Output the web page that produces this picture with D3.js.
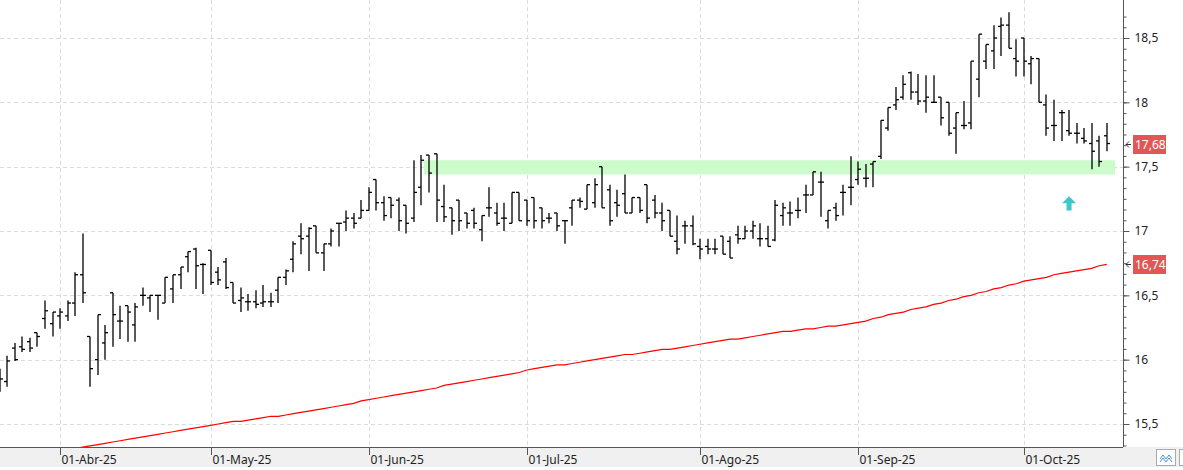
<!DOCTYPE html>
<html>
<head>
<meta charset="utf-8">
<script src="https://cdn.jsdelivr.net/npm/d3@7/dist/d3.min.js"></script>
<style>
  body { margin: 0; background: #fff; }
  svg { display: block; font-family: "Segoe UI", "Noto Sans", "Open Sans", sans-serif; }
</style>
</head>
<body>
<div id="chart"></div>
<script>
// trading calendar (Madrid exchange holidays in the window)
var startDate = '2025-03-20';
var holidays = ['2025-04-18', '2025-04-21', '2025-05-01'];
var monthNames = ['Ene', 'Feb', 'Mar', 'Abr', 'May', 'Jun', 'Jul', 'Ago', 'Sep', 'Oct', 'Nov', 'Dic'];

// daily OHLC, 20-Mar-25 .. 16-Oct-25
var opens = [
    15.80, 15.83, 16.09, 16.10, 16.14, 16.21, 16.32, 16.28, 16.34, 16.34, 16.44, 16.66, 16.18, 16.00, 16.13, 16.52,
    16.30, 16.42, 16.27, 16.50, 16.48, 16.50, 16.44, 16.55, 16.66, 16.80, 16.86, 16.74, 16.85, 16.68, 16.76, 16.60,
    16.46, 16.45, 16.45, 16.44, 16.45, 16.54, 16.64, 16.78, 16.96, 16.96, 17.04, 16.83, 16.90, 17.06, 17.07, 17.10,
    17.10, 17.16, 17.40, 17.22, 17.26, 17.24, 17.20, 17.10, 17.34, 17.59, 17.60, 17.19, 17.18, 17.24, 17.14, 17.16,
    17.01, 17.18, 17.14, 17.10, 17.06, 17.30, 17.24, 17.26, 17.18, 17.10, 17.14, 17.08, 17.18, 17.24, 17.17, 17.22,
    17.50, 17.32, 17.22, 17.29, 17.14, 17.26, 17.36, 17.24, 17.14, 17.16, 16.92, 17.04, 17.04, 16.88, 16.88, 16.86,
    16.96, 16.92, 16.97, 16.94, 17.00, 16.94, 16.94, 16.93, 17.12, 17.14, 17.16, 17.28, 17.28, 17.38, 17.08, 17.18,
    17.30, 17.34, 17.40, 17.41, 17.52, 17.58, 17.80, 17.98, 18.04, 18.23, 18.08, 18.01, 18.00, 18.04, 18.00, 17.80,
    17.82, 17.84, 18.18, 18.32, 18.40, 18.59, 18.60, 18.34, 18.50, 18.30, 18.34, 17.98, 17.82, 17.92, 17.78, 17.76,
    17.72, 17.68, 17.70, 17.74
];
var highs = [
    15.93, 16.03, 16.13, 16.18, 16.17, 16.21, 16.46, 16.37, 16.40, 16.46, 16.68, 16.98, 16.18, 16.35, 16.27, 16.52,
    16.42, 16.42, 16.44, 16.56, 16.50, 16.50, 16.64, 16.66, 16.72, 16.84, 16.87, 16.75, 16.85, 16.72, 16.79, 16.60,
    16.56, 16.51, 16.54, 16.58, 16.52, 16.64, 16.70, 16.92, 17.06, 17.03, 17.04, 16.90, 17.02, 17.06, 17.16, 17.14,
    17.24, 17.34, 17.40, 17.27, 17.26, 17.26, 17.20, 17.55, 17.59, 17.59, 17.60, 17.36, 17.18, 17.24, 17.14, 17.18,
    17.12, 17.34, 17.22, 17.22, 17.30, 17.30, 17.24, 17.26, 17.18, 17.14, 17.14, 17.08, 17.24, 17.26, 17.36, 17.41,
    17.50, 17.36, 17.32, 17.44, 17.26, 17.26, 17.36, 17.28, 17.22, 17.16, 17.12, 17.08, 17.12, 16.94, 16.94, 16.94,
    16.96, 16.96, 17.04, 17.04, 17.08, 17.06, 17.04, 17.24, 17.22, 17.23, 17.26, 17.36, 17.46, 17.46, 17.16, 17.22,
    17.36, 17.58, 17.54, 17.52, 17.54, 17.86, 17.96, 18.12, 18.21, 18.24, 18.22, 18.21, 18.21, 18.04, 18.00, 17.92,
    18.01, 18.32, 18.53, 18.45, 18.60, 18.66, 18.70, 18.49, 18.50, 18.36, 18.34, 18.06, 18.02, 17.94, 17.94, 17.84,
    17.80, 17.84, 17.74, 17.84
];
var lows = [
    15.75, 15.79, 15.99, 16.06, 16.06, 16.10, 16.24, 16.18, 16.24, 16.30, 16.34, 16.44, 15.79, 15.88, 16.00, 16.10,
    16.16, 16.14, 16.14, 16.42, 16.37, 16.31, 16.44, 16.44, 16.55, 16.68, 16.55, 16.51, 16.58, 16.58, 16.55, 16.44,
    16.37, 16.38, 16.40, 16.41, 16.41, 16.44, 16.58, 16.68, 16.82, 16.69, 16.83, 16.69, 16.88, 16.88, 17.00, 17.02,
    17.10, 17.16, 17.16, 17.08, 17.10, 17.00, 16.98, 17.07, 17.20, 17.30, 17.07, 17.07, 16.97, 17.00, 17.02, 17.02,
    16.92, 17.11, 17.04, 17.00, 17.06, 17.08, 17.04, 17.02, 17.02, 17.06, 17.00, 16.90, 17.04, 17.18, 17.17, 17.18,
    17.18, 17.04, 17.11, 17.14, 17.14, 17.14, 17.06, 17.10, 17.00, 16.96, 16.82, 16.90, 16.89, 16.78, 16.82, 16.82,
    16.82, 16.79, 16.90, 16.94, 16.94, 16.88, 16.88, 16.92, 17.04, 17.04, 17.10, 17.14, 17.28, 17.11, 17.02, 17.08,
    17.12, 17.20, 17.36, 17.34, 17.34, 17.56, 17.78, 17.94, 18.02, 18.02, 17.98, 17.92, 18.00, 17.82, 17.74, 17.60,
    17.79, 17.79, 18.04, 18.26, 18.26, 18.36, 18.42, 18.20, 18.20, 18.14, 18.00, 17.74, 17.70, 17.70, 17.74, 17.68,
    17.68, 17.48, 17.50, 17.62
];
var closes = [
    15.85, 15.99, 16.00, 16.08, 16.09, 16.18, 16.38, 16.37, 16.37, 16.44, 16.66, 16.52, 15.93, 16.35, 16.21, 16.35,
    16.30, 16.37, 16.41, 16.50, 16.50, 16.50, 16.64, 16.66, 16.72, 16.84, 16.73, 16.74, 16.60, 16.62, 16.56, 16.44,
    16.48, 16.45, 16.43, 16.45, 16.45, 16.64, 16.69, 16.90, 16.94, 17.02, 16.83, 16.90, 17.00, 17.06, 17.10, 17.06,
    17.16, 17.30, 17.22, 17.12, 17.20, 17.08, 17.06, 17.30, 17.55, 17.45, 17.24, 17.11, 17.08, 17.08, 17.06, 17.06,
    17.12, 17.18, 17.06, 17.10, 17.30, 17.08, 17.08, 17.08, 17.08, 17.10, 17.04, 17.08, 17.24, 17.23, 17.36, 17.36,
    17.18, 17.08, 17.20, 17.14, 17.26, 17.16, 17.10, 17.14, 17.08, 16.96, 16.86, 17.04, 16.90, 16.86, 16.86, 16.86,
    16.82, 16.79, 16.94, 17.00, 17.04, 16.94, 16.88, 17.20, 17.18, 17.14, 17.16, 17.28, 17.46, 17.38, 17.16, 17.12,
    17.30, 17.34, 17.48, 17.41, 17.54, 17.86, 17.96, 18.02, 18.14, 18.08, 18.01, 18.04, 18.00, 17.88, 17.76, 17.92,
    17.82, 18.32, 18.53, 18.45, 18.50, 18.60, 18.42, 18.32, 18.32, 18.34, 18.00, 17.80, 17.82, 17.92, 17.76, 17.76,
    17.70, 17.62, 17.54, 17.68
];
// 200-session moving average, same dates
var ma200 = [
    15.21, 15.22, 15.23, 15.24, 15.25, 15.26, 15.27, 15.28, 15.29, 15.30, 15.31, 15.32, 15.33, 15.34, 15.35, 15.36,
    15.37, 15.38, 15.39, 15.40, 15.41, 15.42, 15.43, 15.44, 15.45, 15.46, 15.47, 15.48, 15.49, 15.50, 15.51, 15.52,
    15.52, 15.53, 15.54, 15.55, 15.56, 15.56, 15.57, 15.58, 15.59, 15.60, 15.61, 15.62, 15.63, 15.64, 15.65, 15.66,
    15.68, 15.69, 15.70, 15.71, 15.72, 15.73, 15.74, 15.75, 15.76, 15.77, 15.78, 15.80, 15.81, 15.82, 15.83, 15.84,
    15.85, 15.86, 15.87, 15.88, 15.89, 15.90, 15.92, 15.93, 15.94, 15.95, 15.96, 15.96, 15.97, 15.98, 15.99, 16.00,
    16.01, 16.02, 16.03, 16.04, 16.04, 16.05, 16.06, 16.07, 16.08, 16.08, 16.09, 16.10, 16.11, 16.12, 16.13, 16.14,
    16.15, 16.16, 16.16, 16.17, 16.18, 16.19, 16.20, 16.21, 16.22, 16.22, 16.23, 16.24, 16.24, 16.25, 16.26, 16.26,
    16.27, 16.28, 16.29, 16.30, 16.32, 16.33, 16.35, 16.36, 16.37, 16.39, 16.40, 16.41, 16.43, 16.44, 16.46, 16.47,
    16.49, 16.50, 16.52, 16.53, 16.55, 16.56, 16.58, 16.59, 16.61, 16.62, 16.63, 16.64, 16.66, 16.67, 16.68, 16.69,
    16.70, 16.71, 16.73, 16.74
];

var priceTicks = [15.5, 16, 16.5, 17, 17.5, 18, 18.5];
var monthTicks = ['2025-04', '2025-05', '2025-06', '2025-07', '2025-08', '2025-09', '2025-10'];
var supportZone = [17.44, 17.55];     // green band
var supportStart = '2025-06-12';
var signalDate = '2025-10-09';        // cyan arrow
var signalRange = [17.16, 17.27];

var width = 1183, height = 470,
    plotRight = 1123, plotBottom = 447;

function tradingDays(start, count) {
    var out = [], d = new Date(start + 'T00:00:00Z');
    while (out.length < count) {
        var iso = d.toISOString().slice(0, 10), wd = d.getUTCDay();
        if (wd !== 0 && wd !== 6 && holidays.indexOf(iso) < 0) out.push(iso);
        d.setUTCDate(d.getUTCDate() + 1);
    }
    return out;
}

var dates = tradingDays(startDate, opens.length);
var bars = dates.map(function (d, i) {
    return { date: d, i: i, o: opens[i], h: highs[i], l: lows[i], c: closes[i], ma: ma200[i] };
});

var x = d3.scaleLinear().domain([0, bars.length - 1]).range([-0.2, 1106.7]);
var y = d3.scaleLinear().domain([15.5, 18.5]).range([424, 38]);

function idxOf(iso) {
    for (var i = 0; i < dates.length; i++) if (dates[i] >= iso) return i;
    return dates.length - 1;
}
function comma(v) { return String(v).replace('.', ','); }

var svg = d3.select('#chart').append('svg').attr('width', width).attr('height', height);

svg.append('defs').append('clipPath').attr('id', 'plot')
    .append('rect').attr('x', 0).attr('y', 0).attr('width', plotRight).attr('height', plotBottom);

// grid
var grid = svg.append('g').attr('stroke', '#dcdcdc').attr('stroke-dasharray', '4,3');
grid.selectAll('line.h').data(priceTicks).enter().append('line')
    .attr('x1', 0).attr('x2', plotRight)
    .attr('y1', function (d) { return Math.round(y(d)) + 0.5; })
    .attr('y2', function (d) { return Math.round(y(d)) + 0.5; });
grid.selectAll('line.v').data(monthTicks).enter().append('line')
    .attr('x1', function (m) { return Math.round(x(idxOf(m + '-01'))) + 0.5; })
    .attr('x2', function (m) { return Math.round(x(idxOf(m + '-01'))) + 0.5; })
    .attr('y1', 0).attr('y2', plotBottom);

var plot = svg.append('g').attr('clip-path', 'url(#plot)');

// support band
var s0 = idxOf(supportStart) - 0.7;
plot.append('rect')
    .attr('x', x(s0)).attr('width', plotRight - 8 - x(s0))
    .attr('y', y(supportZone[1])).attr('height', y(supportZone[0]) - y(supportZone[1]))
    .attr('fill', '#ccfccc');

// moving average
plot.append('path').datum(bars)
    .attr('fill', 'none').attr('stroke', '#f00').attr('stroke-width', 1.2)
    .attr('d', d3.line().x(function (d) { return x(d.i); }).y(function (d) { return y(d.ma); }));

// OHLC bars
var barG = plot.append('g').attr('stroke', '#000').attr('stroke-width', 1.3);
var bg = barG.selectAll('g').data(bars).enter().append('g');
bg.append('line')
    .attr('x1', function (d) { return Math.round(x(d.i)); })
    .attr('x2', function (d) { return Math.round(x(d.i)); })
    .attr('y1', function (d) { return y(d.h); })
    .attr('y2', function (d) { return y(d.l); });
bg.append('line')
    .attr('x1', function (d) { return Math.round(x(d.i)) - 3; })
    .attr('x2', function (d) { return Math.round(x(d.i)); })
    .attr('y1', function (d) { return y(d.o); })
    .attr('y2', function (d) { return y(d.o); });
bg.append('line')
    .attr('x1', function (d) { return Math.round(x(d.i)); })
    .attr('x2', function (d) { return Math.round(x(d.i)) + 3; })
    .attr('y1', function (d) { return y(d.c); })
    .attr('y2', function (d) { return y(d.c); });

// signal arrow
var ax = x(idxOf(signalDate)), aTop = y(signalRange[1]), aBot = y(signalRange[0]);
svg.append('path')
    .attr('d', 'M' + ax + ',' + aTop + 'L' + (ax + 7) + ',' + (aTop + 7) + 'L' + (ax + 2.5) + ',' + (aTop + 7) +
        'L' + (ax + 2.5) + ',' + aBot + 'L' + (ax - 2.5) + ',' + aBot + 'L' + (ax - 2.5) + ',' + (aTop + 7) +
        'L' + (ax - 7) + ',' + (aTop + 7) + 'Z')
    .attr('fill', '#3cc8c8');

// bottom axis band
svg.append('rect').attr('x', 0).attr('y', plotBottom).attr('width', width).attr('height', 20).attr('fill', '#f0f0f0');
svg.append('line').attr('x1', 0).attr('x2', plotRight).attr('y1', plotBottom + 0.5).attr('y2', plotBottom + 0.5)
    .attr('stroke', '#555');

var xt = svg.append('g').selectAll('g').data(monthTicks).enter().append('g')
    .attr('transform', function (m) { return 'translate(' + (Math.round(x(idxOf(m + '-01'))) + 0.5) + ',' + plotBottom + ')'; });
xt.append('line').attr('y1', 0).attr('y2', 8).attr('stroke', '#555');
xt.append('text').attr('x', 1).attr('y', 17).attr('font-size', 12).attr('fill', '#222')
    .text(function (m) { return '01-' + monthNames[+m.slice(5) - 1] + '-' + m.slice(2, 4); });

// right price axis
var minor = d3.range(15.25, 18.75, 0.5 / 6).filter(function (v) { return y(v) > 0 && y(v) < plotBottom; });
svg.append('g').attr('transform', 'translate(' + (plotRight + 0.5) + ',0)')
    .call(d3.axisRight(y).tickValues(minor).tickSize(3).tickFormat(''))
    .call(function (g) { g.select('.domain').remove(); g.selectAll('line').attr('stroke', '#555'); });
var yAxis = svg.append('g').attr('transform', 'translate(' + (plotRight + 0.5) + ',0)')
    .call(d3.axisRight(y).tickValues(priceTicks).tickSize(6).tickPadding(5).tickFormat(comma));
yAxis.select('.domain').remove();
yAxis.selectAll('line').attr('stroke', '#555');
yAxis.selectAll('text').attr('font-size', 12).attr('fill', '#222')
    .attr('font-family', '"Segoe UI", "Noto Sans", sans-serif');
svg.append('line').attr('x1', plotRight + 0.5).attr('x2', plotRight + 0.5).attr('y1', 0).attr('y2', plotBottom)
    .attr('stroke', '#555');

// last value tags
var last = bars[bars.length - 1];
var tags = [last.c, last.ma];
var tg = svg.append('g').selectAll('g').data(tags).enter().append('g')
    .attr('transform', function (v) { return 'translate(0,' + Math.round(y(v)) + ')'; });
tg.append('path').attr('d', 'M1131,0.5H1126M1129,-2.5L1126,0.5L1129,3.5')
    .attr('fill', 'none').attr('stroke', '#333');
tg.append('rect').attr('x', 1133).attr('y', -9).attr('width', 33).attr('height', 19).attr('fill', '#e35656');
tg.append('text').attr('x', 1135).attr('y', 4.5).attr('font-size', 12).attr('fill', '#fff')
    .text(function (v) { return v.toFixed(2).replace('.', ','); });

// toolbar buttons in the corner
svg.append('rect').attr('x', 1156.5).attr('y', 449.5).attr('width', 19).attr('height', 16)
    .attr('fill', '#fff').attr('stroke', '#aaa');
svg.append('path').attr('d', 'M1160,459L1163,455L1166,459L1169,455L1172,459M1160,462L1163,458L1166,462L1169,458L1172,462')
    .attr('fill', 'none').attr('stroke', '#4a90d9');
svg.append('rect').attr('x', 1179.5).attr('y', 449.5).attr('width', 10).attr('height', 16)
    .attr('fill', '#fff').attr('stroke', '#aaa');
</script>
</body>
</html>
